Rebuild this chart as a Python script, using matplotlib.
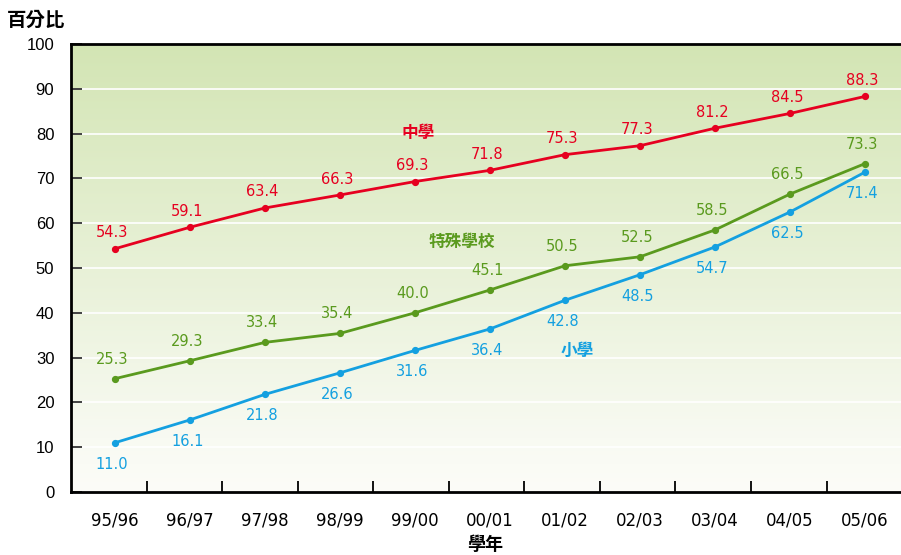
import numpy as np
import matplotlib
matplotlib.use("Agg")
import matplotlib.pyplot as plt
from matplotlib.colors import LinearSegmentedColormap

years = ["95/96", "96/97", "97/98", "98/99", "99/00", "00/01",
         "01/02", "02/03", "03/04", "04/05", "05/06"]
secondary = [54.3, 59.1, 63.4, 66.3, 69.3, 71.8, 75.3, 77.3, 81.2, 84.5, 88.3]
special = [25.3, 29.3, 33.4, 35.4, 40.0, 45.1, 50.5, 52.5, 58.5, 66.5, 73.3]
primary = [11.0, 16.1, 21.8, 26.6, 31.6, 36.4, 42.8, 48.5, 54.7, 62.5, 71.4]
series_names = ["中學", "特殊學校", "小學"]
y_ticks = [0, 10, 20, 30, 40, 50, 60, 70, 80, 90, 100]

RED = "#e60020"
GREEN = "#5a9a1e"
BLUE = "#14a0e0"
CJK = ["Noto Sans CJK TC", "DejaVu Sans"]

fig = plt.figure(figsize=(9.01, 5.55), dpi=100)
ax = fig.add_axes([71/901, 63/555, 1 - 71/901, (492-44)/555])

x = np.arange(len(years))
xl = (-44/75, (901-115)/75)

# gradient background
grad = np.linspace(0, 1, 256).reshape(-1, 1)
cmap = LinearSegmentedColormap.from_list("g", [(0, "#fcfcf8"), (0.12, "#f8faf2"), (1, "#d3e5b4")])
ax.imshow(grad, extent=[xl[0], xl[1], 0, 100], origin="lower",
          aspect="auto", cmap=cmap, zorder=0)
ax.set_xlim(*xl)
ax.set_ylim(0, 100)

for yv in y_ticks[1:-1]:
    ax.axhline(yv, color="white", lw=1.2, zorder=1)

for vals, col, dy in [(secondary, RED, 11.5), (special, GREEN, 14), (primary, BLUE, -15.5)]:
    ax.plot(x, vals, color=col, lw=2.0, marker="o", ms=4.2, zorder=3,
            solid_capstyle="round")
    for xi, v in zip(x, vals):
        ax.annotate(f"{v:.1f}", (xi, v), xytext=(-2, dy), textcoords="offset points",
                    ha="center", va="center", color=col, fontsize=10.5,
                    family="DejaVu Sans", zorder=4)

ax.text(4.04, 80.1, series_names[0], color=RED, fontsize=12, fontweight="bold",
        family=CJK, ha="center", va="center")
ax.text(4.63, 55.8, series_names[1], color=GREEN, fontsize=12, fontweight="bold",
        family=CJK, ha="center", va="center")
ax.text(6.16, 31.5, series_names[2], color=BLUE, fontsize=12, fontweight="bold",
        family=CJK, ha="center", va="center")

for s in ["left", "bottom", "top"]:
    ax.spines[s].set_linewidth(2)
    ax.spines[s].set_color("black")
ax.spines["right"].set_visible(False)

ax.set_yticks(y_ticks)
ax.set_yticklabels([str(v) for v in y_ticks], family="Liberation Sans", fontsize=12)
ax.tick_params(axis="y", direction="in", length=8, width=1.3, color="#333333", pad=12)

ax.set_xticks([0.42 + 1.0075 * i for i in range(len(years) - 1)])
ax.set_xticklabels([])
ax.tick_params(axis="x", which="major", direction="in", length=8, width=1.3, color="black")
ax.set_xticks(x, minor=True)
ax.set_xticklabels(years, minor=True, family="DejaVu Sans", fontsize=12)
ax.tick_params(axis="x", which="minor", length=0, pad=14)

fig.text(7/901, 1 - 20/555, "百分比", family=CJK, fontsize=14, fontweight="bold",
         ha="left", va="center")
fig.text(467/901, 1 - 545/555, "學年", family=CJK, fontsize=13, fontweight="bold",
         ha="left", va="center")

fig.savefig("out.png", dpi=100)
